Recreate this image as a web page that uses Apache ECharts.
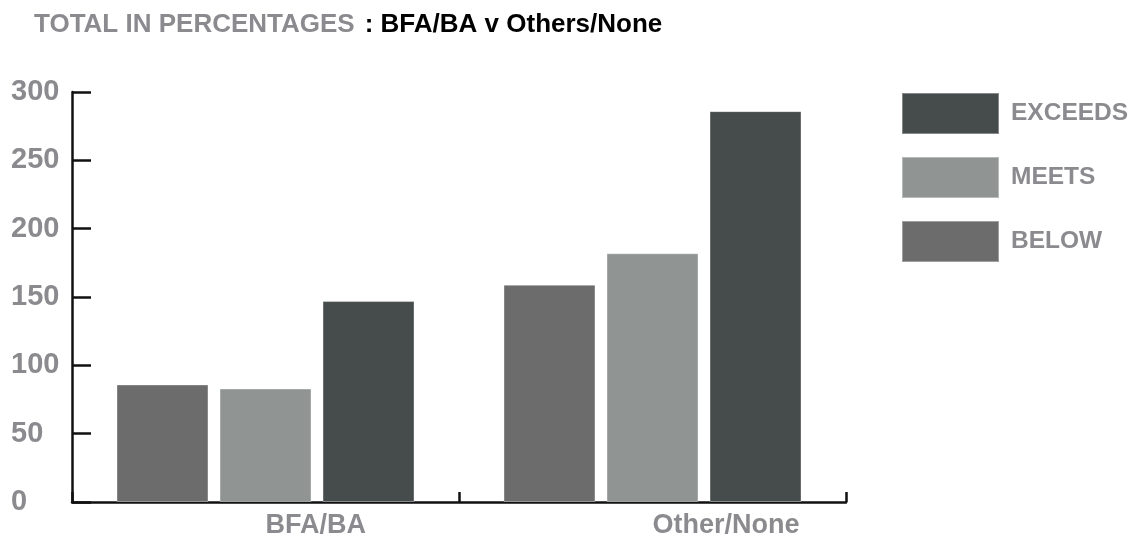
<!DOCTYPE html>
<html>
<head>
<meta charset="utf-8">
<script src="https://cdn.jsdelivr.net/npm/echarts@6/dist/echarts.min.js"></script>
<style>
  html, body { margin: 0; padding: 0; background: #ffffff; }
  #chart { width: 1138px; height: 542px; }
</style>
</head>
<body>
<div id="chart"></div>
<script>
// Categories and series values (percent totals)
const categories = ['BFA/BA', 'Other/None'];
const below = [86, 159];
const meets = [83, 182];
const exceeds = [147, 286];
const legendOrder = ['EXCEEDS', 'MEETS', 'BELOW'];

const FONT = '"Liberation Sans", Arial, sans-serif';
const GREY_TEXT = '#8b8b8f';

const chart = echarts.init(document.getElementById('chart'), null, { renderer: 'canvas' });

const barBase = {
  type: 'bar',
  barGap: '12%',
  barCategoryGap: '23%',
  itemStyle: { borderColor: 'rgba(255,255,255,0.35)', borderWidth: 1 }
};

chart.setOption({
  animation: false,
  backgroundColor: '#ffffff',
  title: {
    left: 34,
    top: 12,
    padding: 0,
    text: '{g|TOTAL IN PERCENTAGES}  {b|: BFA/BA v Others/None}',
    textStyle: {
      rich: {
        g: { fontFamily: FONT, fontWeight: 'bold', fontSize: 26, color: GREY_TEXT },
        b: { fontFamily: FONT, fontWeight: 'bold', fontSize: 26, color: '#000000' }
      }
    }
  },
  legend: {
    data: legendOrder,
    orient: 'vertical',
    left: 901,
    top: 92,
    padding: 0,
    itemWidth: 97,
    itemHeight: 41,
    itemGap: 21,
    icon: 'rect',
    textStyle: {
      fontFamily: FONT, fontWeight: 'bold', fontSize: 24.5, color: GREY_TEXT,
      padding: [0, 0, 0, 7]
    }
  },
  grid: { left: 72, right: 292, top: 92, bottom: 40, containLabel: false },
  xAxis: {
    type: 'category',
    data: categories,
    axisLine: { show: true, lineStyle: { color: '#111111', width: 2.5 } },
    axisTick: { show: true, inside: true, length: 10, lineStyle: { color: '#111111', width: 2.5 } },
    axisLabel: {
      align: 'left', margin: 10,
      fontFamily: FONT, fontWeight: 'bold', fontSize: 27, color: GREY_TEXT
    }
  },
  yAxis: {
    type: 'value',
    min: 0, max: 300, interval: 50,
    splitLine: { show: false },
    axisLine: { show: true, lineStyle: { color: '#111111', width: 2.5 } },
    axisTick: { show: true, inside: true, length: 19, lineStyle: { color: '#111111', width: 2.5 } },
    axisLabel: {
      align: 'left', margin: 61,
      fontFamily: FONT, fontWeight: 'bold', fontSize: 29, color: GREY_TEXT
    }
  },
  series: [
    Object.assign({}, barBase, { name: 'BELOW', data: below, itemStyle: Object.assign({}, barBase.itemStyle, { color: '#6c6c6c' }) }),
    Object.assign({}, barBase, { name: 'MEETS', data: meets, itemStyle: Object.assign({}, barBase.itemStyle, { color: '#909594' }) }),
    Object.assign({}, barBase, { name: 'EXCEEDS', data: exceeds, itemStyle: Object.assign({}, barBase.itemStyle, { color: '#464b4b' }) })
  ]
});
</script>
</body>
</html>
